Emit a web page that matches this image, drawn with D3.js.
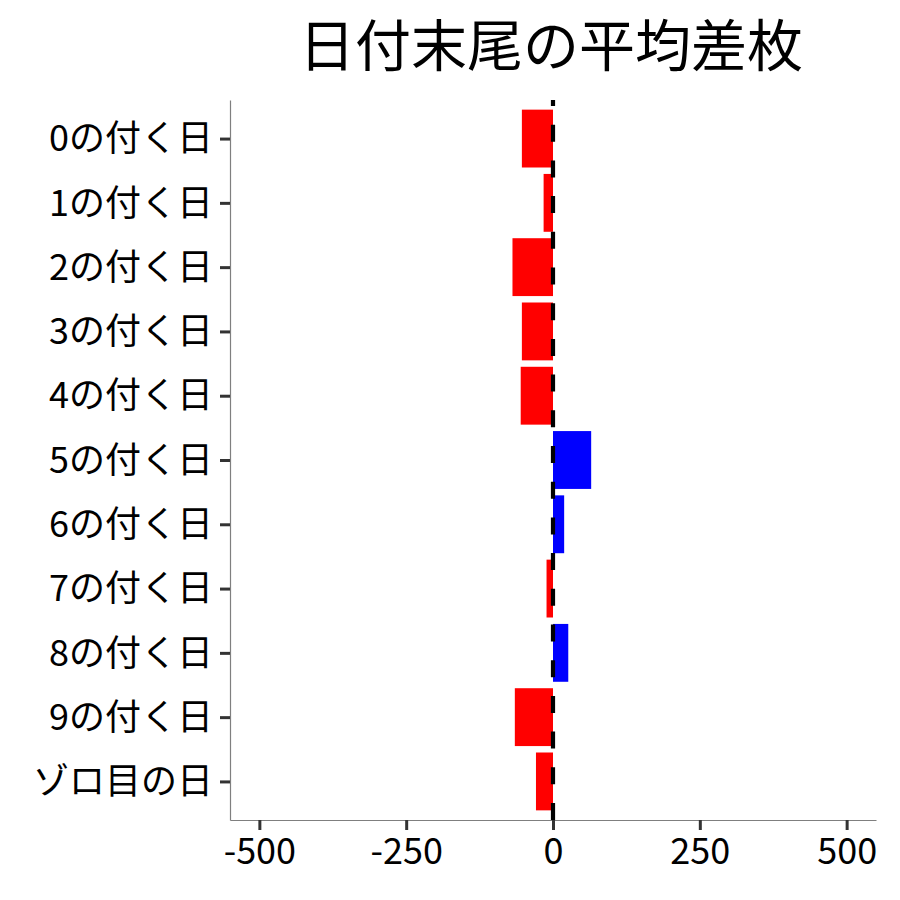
<!DOCTYPE html>
<html>
<head>
<meta charset="utf-8">
<script src="https://cdn.jsdelivr.net/npm/d3@7"></script>
<style>
body { margin: 0; background: #fff; }
text { font-family: "Noto Sans CJK JP", "Noto Sans", sans-serif; }
</style>
</head>
<body>
<script>
// data
var categories = ["0の付く日", "1の付く日", "2の付く日", "3の付く日", "4の付く日", "5の付く日",
	"6の付く日", "7の付く日", "8の付く日", "9の付く日", "ゾロ目の日"];
var diffValues = [-53, -16, -69, -53, -55, 65, 19, -11, 26, -65, -29];
var xTicks = [-500, -250, 0, 250, 500];
var titleText = "日付末尾の平均差枚";

var W = 900, H = 900;
var panelL = 230, panelR = 876, panelT = 100, panelB = 820;

var svg = d3.select("body")
	.append("svg")
	.attr("width", W)
	.attr("height", H);

var x = d3.scaleLinear().domain([-550, 550]).range([panelL, panelR]);
var y = d3.scalePoint().domain(categories).range([panelT, panelB]).padding(0.6);
var barH = y.step() * 0.9;

// bars
svg.append("g")
	.selectAll("rect")
	.data(categories)
	.enter()
	.append("rect")
	.attr("x", function(d, i) { return x(Math.min(0, diffValues[i])); })
	.attr("width", function(d, i) { return Math.abs(x(diffValues[i]) - x(0)); })
	.attr("y", function(d) { return y(d) - barH / 2; })
	.attr("height", barH)
	.attr("fill", function(d, i) { return diffValues[i] < 0 ? "#ff0000" : "#0000ff"; });

// zero line (dashed, drawn from bottom like ggplot)
svg.append("path")
	.attr("d", "M" + x(0) + "," + panelB + "L" + x(0) + "," + panelT)
	.attr("stroke", "#000")
	.attr("stroke-width", 4.2)
	.attr("stroke-dasharray", "17 18.7")
	.attr("fill", "none");

// axes
var xAxis = svg.append("g")
	.attr("transform", "translate(0," + panelB + ")")
	.call(d3.axisBottom(x).tickValues(xTicks).tickFormat(function(d) { return String(d); })
		.tickSizeInner(10).tickSizeOuter(0).tickPadding(6));
var yAxis = svg.append("g")
	.attr("transform", "translate(" + panelL + ",0)")
	.call(d3.axisLeft(y).tickSizeInner(10).tickSizeOuter(0).tickPadding(7));

[xAxis, yAxis].forEach(function(a) {
	a.select(".domain").attr("stroke", "#7f7f7f").attr("stroke-width", 1.2);
	a.selectAll(".tick line").attr("stroke", "#333").attr("stroke-width", 3);
	a.selectAll(".tick text").attr("fill", "#000").style("font-size", "36px")
		.style("font-family", '"Noto Sans CJK JP", sans-serif');
});
yAxis.selectAll(".tick text").attr("dy", "0.34em");
xAxis.selectAll(".tick text").attr("dy", "0.78em");

// title
svg.append("text")
	.attr("x", (panelL + panelR) / 2 - 2)
	.attr("y", 66)
	.attr("text-anchor", "middle")
	.attr("font-size", "56px")
	.attr("fill", "#000")
	.text(titleText);
</script>
</body>
</html>
